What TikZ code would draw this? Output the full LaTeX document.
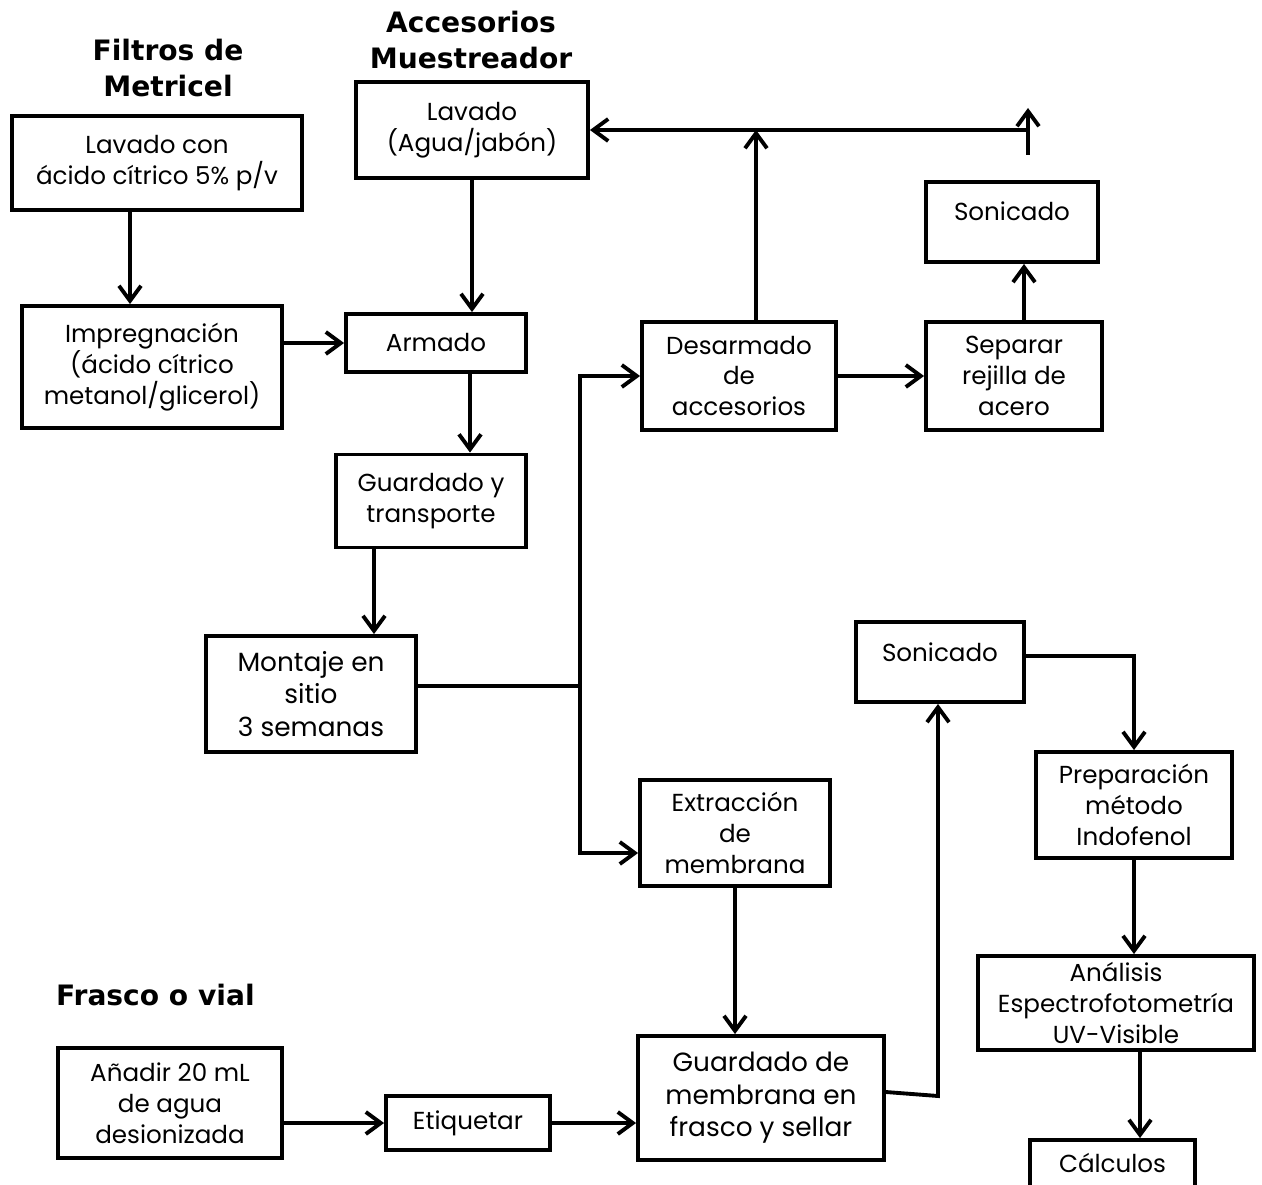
\documentclass[tikz,border=0pt]{standalone}
\usepackage{fontspec}
\setmainfont{Poppins}
\newfontfamily\headfont{DejaVu Sans}
\usetikzlibrary{arrows.meta,calc}
\tikzset{
    box/.style =    {rectangle,
                    fill=white,
                    draw=black,
                    text=black,
                    line width=2.2pt,
                    align=center,
                    inner sep=2pt,
                    font=\fontsize{14}{17.5}\selectfont},
    big/.style =    {font=\fontsize{15}{18.5}\selectfont},
    sz/.style 2 args = {minimum width=#1,
                    minimum height=#2},
    head/.style =   {align=center,
                    text=black,
                    font=\headfont\bfseries\fontsize{16}{20}\selectfont},
    link/.style =   {line width=2.2pt,
                    -{Straight Barb[length=0.3cm,width=0.44cm]}},
    plain/.style =  {line width=2.2pt}}

\begin{document}
\begin{tikzpicture}
            \useasboundingbox (0,0) rectangle (25.24,-23.68);

            \node[head]                (FM) at (3.36,-1.36)    {Filtros de\\Metricel};
            \node[head]                (AM) at (9.42,-0.8)     {Accesorios\\Muestreador};
            \node[head,anchor=west]    (FV) at (1.0,-19.9)     {Frasco o vial};

            \node[box,sz={5.8cm}{1.88cm}]  (LC) at (3.14,-3.26)   {Lavado con\\ácido cítrico 5\% p/v};
            \node[box,sz={5.2cm}{2.44cm}]  (IM) at (3.04,-7.34)   {Impregnación\\(ácido cítrico\\metanol/glicerol)};
            \node[box,sz={4.64cm}{1.92cm}] (LA) at (9.44,-2.6)    {Lavado\\(Agua/jabón)};
            \node[box,sz={3.6cm}{1.16cm}]  (AR) at (8.72,-6.86)   {Armado};
            \node[box,sz={3.8cm}{1.86cm}]  (GT) at (8.62,-10.02)  {Guardado y\\transporte};
            \node[box,big,sz={4.2cm}{2.32cm}] (MS) at (6.22,-13.88) {Montaje en\\sitio\\3 semanas};
            \node[box,sz={3.88cm}{2.16cm}] (DA) at (14.78,-7.52)  {Desarmado\\de\\accesorios};
            \node[box,sz={3.52cm}{2.16cm}] (SR) at (20.28,-7.52)  {Separar\\rejilla de\\acero};
            \node[box,sz={3.44cm}{1.6cm},text depth=0.45cm] (S1) at (20.24,-4.44) {Sonicado};
            \node[box,sz={3.8cm}{2.12cm}]  (EM) at (14.7,-16.66)  {Extracción\\de\\membrana};
            \node[box,big,sz={4.92cm}{2.48cm}] (GM) at (15.22,-21.96) {Guardado de\\membrana en\\frasco y sellar};
            \node[box,sz={4.48cm}{2.2cm}]  (AD) at (3.4,-22.06)   {Añadir 20 mL\\de agua\\desionizada};
            \node[box,sz={3.28cm}{1.08cm}] (ET) at (9.36,-22.46)  {Etiquetar};
            \node[box,sz={3.36cm}{1.6cm},text depth=0.4cm] (S2) at (18.8,-13.24) {Sonicado};
            \node[box,sz={3.92cm}{2.12cm}] (PM) at (22.68,-16.1)  {Preparación\\método\\Indofenol};
            \node[box,sz={5.52cm}{1.88cm},inner ysep=0pt] (AN) at (22.32,-20.06) {Análisis\\Espectrofotometría\\UV-Visible};
            \node[box,sz={3.3cm}{1.2cm},text depth=0.3cm] (CA) at (22.25,-23.4) {Cálculos};

            \coordinate (J) at (11.6,-13.72);
            \coordinate (T0) at (20.56,-3.1);
            \coordinate (T1) at (20.56,-2.16);
            \coordinate (K) at (18.76,-21.92);
            \coordinate (c6) at ([xshift=0.48cm]AN.south);

            \draw[link]  ([xshift=-0.54cm]LC.south) coordinate (c1) -- (c1 |- IM.north);
            \draw[link]  (IM.east |- AR.west) -- (AR.west);
            \draw[link]  (LA.south) -- (LA.south |- AR.north);
            \draw[link]  ([xshift=0.68cm]AR.south) coordinate (c2) -- (c2 |- GT.north);
            \draw[link]  ([xshift=-1.14cm]GT.south) coordinate (c3) -- (c3 |- MS.north);
            \draw[plain] (MS.east |- J) -- (J);
            \draw[link]  (J) |- (DA.west);
            \draw[link]  (J) |- ([yshift=-0.4cm]EM.west);
            \draw[link]  ([xshift=0.34cm]DA.north) coordinate (c4) -- (c4 |- LA.east);
            \draw[link]  (T0 |- LA.east) -- (LA.east);
            \draw[link]  (T0) -- (T1);
            \draw[link]  (DA.east) -- (SR.west);
            \draw[link]  ([xshift=0.2cm]SR.north) coordinate (c5) -- (c5 |- S1.south);
            \draw[link]  (EM.south) -- (EM.south |- GM.north);
            \draw[link]  (AD.east |- ET.west) -- (ET.west);
            \draw[link]  (ET.east) -- (ET.east -| GM.west);
            \draw[link]  ([yshift=0.12cm]GM.east) -- (K) -- (K |- S2.south);
            \draw[link]  ([yshift=0.12cm]S2.east) -| (PM.north);
            \draw[link]  (PM.south) -- (PM.south |- AN.north);
            \draw[link]  (c6) -- (c6 |- CA.north);
\end{tikzpicture}
\end{document}
